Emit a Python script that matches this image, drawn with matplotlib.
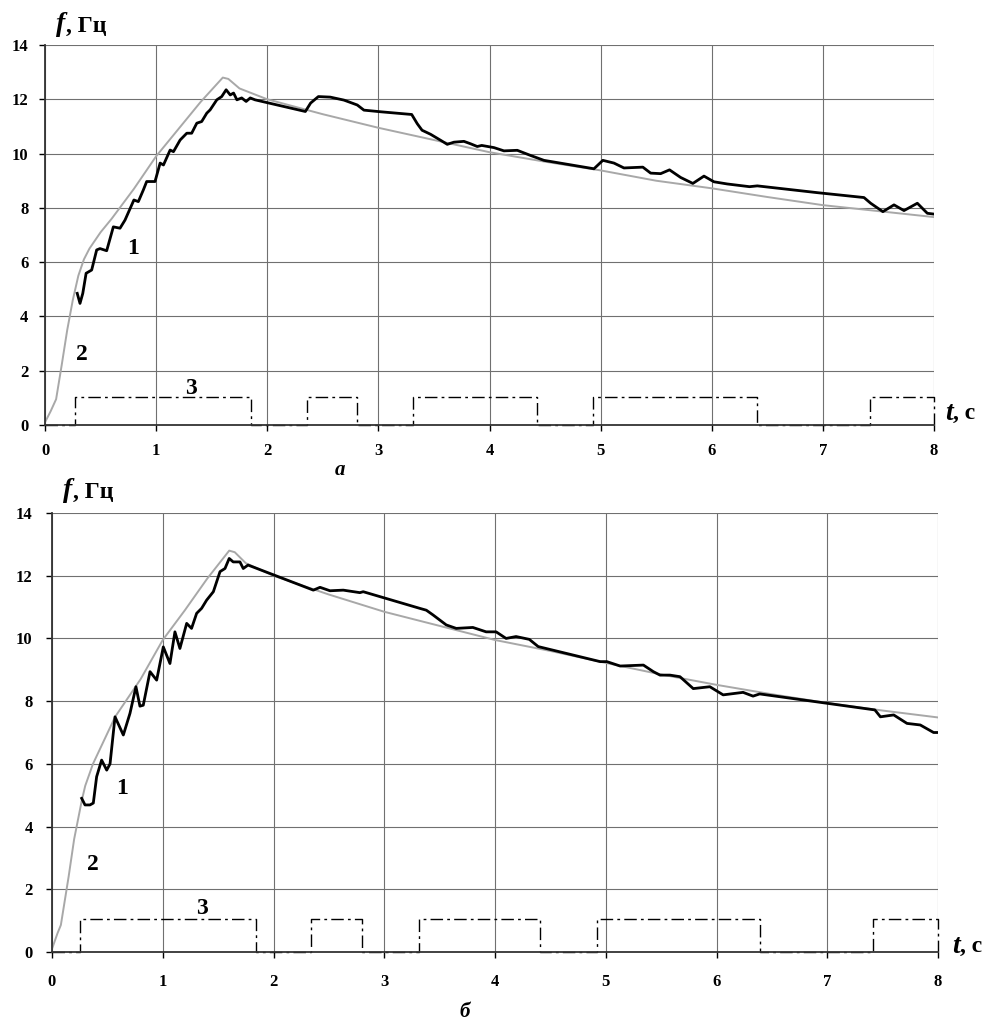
import matplotlib
matplotlib.use("Agg")
import matplotlib.pyplot as plt
import numpy as np

plt.rcParams["font.family"] = ["Liberation Serif", "DejaVu Serif"]

# Model curve (2), panel a
t2_a = [0.0, 0.05, 0.1, 0.15, 0.2, 0.25, 0.3, 0.35, 0.4, 0.5, 0.6, 0.8, 1.0,
        1.2, 1.4, 1.6, 1.65, 1.75, 2.0, 2.5, 3.0, 3.5, 4.0, 4.5, 5.0, 5.5,
        6.0, 6.5, 7.0, 7.5, 8.0]
f2_a = [0.1, 0.5, 0.95, 2.2, 3.5, 4.6, 5.5, 6.1, 6.5, 7.1, 7.6, 8.7, 9.9,
        10.9, 11.9, 12.8, 12.75, 12.4, 12.0, 11.45, 10.95, 10.5, 10.05, 9.7,
        9.38, 9.0, 8.72, 8.4, 8.1, 7.88, 7.66]

# Model curve (2), panel b
t2_b = [0.0, 0.05, 0.08, 0.15, 0.2, 0.27, 0.3, 0.37, 0.45, 0.57, 0.8, 1.0,
        1.2, 1.4, 1.6, 1.65, 1.75, 2.0, 2.5, 3.0, 3.5, 4.0, 4.5, 5.0, 5.5,
        6.0, 6.5, 7.0, 7.5, 8.0]
f2_b = [0.1, 0.6, 0.86, 2.4, 3.6, 4.85, 5.3, 6.0, 6.6, 7.5, 8.7, 9.95,
        10.9, 11.9, 12.8, 12.75, 12.4, 12.0, 11.4, 10.85, 10.4, 9.95, 9.6,
        9.22, 8.85, 8.52, 8.22, 7.94, 7.7, 7.48]

# Measured curve (1), panel a
t1_a = [0.29, 0.315, 0.34, 0.37, 0.42, 0.465, 0.495, 0.555, 0.615, 0.675,
        0.72, 0.80, 0.84, 0.885, 0.915, 0.99, 1.036, 1.066, 1.126, 1.156,
        1.216, 1.276, 1.32, 1.366, 1.41, 1.456, 1.486, 1.546, 1.59, 1.63,
        1.667, 1.697, 1.727, 1.77, 1.81, 1.847, 1.89, 2.343, 2.39, 2.46,
        2.567, 2.69, 2.81, 2.87, 3.02, 3.30, 3.35, 3.393, 3.47, 3.56, 3.62,
        3.68, 3.77, 3.83, 3.89, 3.93, 4.04, 4.13, 4.25, 4.37, 4.49, 4.94,
        5.02, 5.12, 5.21, 5.38, 5.45, 5.54, 5.62, 5.72, 5.83, 5.93, 6.02,
        6.14, 6.34, 6.41, 6.95, 7.37, 7.43, 7.54, 7.64, 7.73, 7.85, 7.94,
        8.0]
f1_a = [4.85, 4.48, 4.85, 5.59, 5.71, 6.45, 6.5, 6.42, 7.3, 7.25, 7.55,
        8.29, 8.23, 8.66, 8.97, 8.97, 9.65, 9.58, 10.13, 10.07, 10.5, 10.75,
        10.75, 11.12, 11.18, 11.49, 11.61, 11.98, 12.1, 12.35, 12.16, 12.23,
        11.98, 12.05, 11.92, 12.05, 11.98, 11.55, 11.86, 12.1, 12.08, 11.97,
        11.79, 11.6, 11.54, 11.44, 11.1, 10.86, 10.71, 10.49, 10.34, 10.42,
        10.45, 10.36, 10.26, 10.3, 10.22, 10.1, 10.12, 9.93, 9.75, 9.44,
        9.75, 9.65, 9.47, 9.5, 9.28, 9.26, 9.4, 9.12, 8.9, 9.17, 8.96, 8.88,
        8.78, 8.81, 8.56, 8.38, 8.17, 7.86, 8.11, 7.9, 8.17, 7.8, 7.77]

# Measured curve (1), panel b
t1_b = [0.268, 0.298, 0.343, 0.373, 0.403, 0.448, 0.494, 0.524, 0.569,
        0.644, 0.704, 0.758, 0.794, 0.824, 0.885, 0.945, 1.005, 1.065, 1.11,
        1.155, 1.216, 1.26, 1.306, 1.351, 1.396, 1.457, 1.517, 1.562, 1.6,
        1.636, 1.697, 1.727, 1.77, 2.36, 2.42, 2.51, 2.63, 2.78, 2.81, 3.32,
        3.38, 3.44, 3.56, 3.65, 3.80, 3.92, 4.01, 4.1, 4.19, 4.31, 4.39,
        4.95, 5.01, 5.13, 5.34, 5.43, 5.49, 5.58, 5.67, 5.79, 5.94, 6.06,
        6.24, 6.33, 6.39, 7.43, 7.48, 7.6, 7.72, 7.84, 7.96, 8.0]
f1_b = [4.9, 4.69, 4.69, 4.75, 5.59, 6.12, 5.8, 6.0, 7.5, 6.92, 7.61, 8.46,
        7.84, 7.87, 8.94, 8.67, 9.73, 9.2, 10.21, 9.68, 10.48, 10.32, 10.8,
        10.96, 11.22, 11.49, 12.13, 12.23, 12.55, 12.44, 12.44, 12.23,
        12.34, 11.54, 11.63, 11.52, 11.54, 11.46, 11.49, 10.96, 10.9, 10.75,
        10.43, 10.32, 10.35, 10.21, 10.21, 10.0, 10.06, 9.97, 9.74, 9.26,
        9.26, 9.12, 9.15, 8.94, 8.83, 8.83, 8.78, 8.4, 8.46, 8.2, 8.28, 8.16,
        8.23, 7.72, 7.5, 7.56, 7.29, 7.24, 7.0, 7.0]

# Control signal (3): pulse on/off times
pulse_level = 1.05
on_a = [0.27, 2.36, 3.31, 4.93, 7.42]
off_a = [1.85, 2.81, 4.43, 6.41, 8.0]
on_b = [0.25, 2.34, 3.31, 4.92, 7.41]
off_b = [1.84, 2.80, 4.41, 6.39, 8.0]

# label positions (t, f) for curve numbers
labels_a = {"1": (0.79, 6.5), "2": (0.33, 2.6), "3": (1.31, 1.35)}
labels_b = {"1": (0.63, 5.2), "2": (0.37, 2.8), "3": (1.35, 1.4)}


def pulse_xy(on, off, level):
    xs, ys = [0.0], [0.0]
    for a, b in zip(on, off):
        xs += [a, a, b, b]
        ys += [0.0, level, level, 0.0]
    return xs, ys


def draw_panel(ax, t1, f1, t2, f2, on, off, labels, ypad, xpad):
    ax.set_xlim(0, 8)
    ax.set_ylim(0, 14)
    ax.set_xticks(range(0, 9))
    ax.set_yticks(range(0, 15, 2))
    ax.grid(True, color="#707070", lw=0.8)
    ax.set_axisbelow(True)
    for s in ("top", "right"):
        ax.spines[s].set_visible(False)
    for s in ("left", "bottom"):
        ax.spines[s].set_linewidth(1.3)
        ax.spines[s].set_color("#333333")
    ax.tick_params(axis="both", direction="out", length=4, width=1,
                   labelsize=12)
    ax.tick_params(axis="x", pad=xpad)
    ax.tick_params(axis="y", pad=ypad)
    for lab in ax.get_xticklabels() + ax.get_yticklabels():
        lab.set_fontweight("bold")

    xs, ys = pulse_xy(on, off, pulse_level)
    ax.plot(xs, ys, color="black", lw=1.0, ls=(0, (9, 3, 2, 3)),
            clip_on=False)
    ax.plot(t2, f2, color="#a8a8a8", lw=1.4)
    ax.plot(t1, f1, color="black", lw=2.0)

    for k, (x, y) in labels.items():
        ax.text(x, y, k, fontsize=17, fontweight="bold", ha="center",
                va="center")


fig = plt.figure(figsize=(9.86, 10.31), dpi=100)
ax_a = fig.add_axes([45 / 986, 1 - 425 / 1031, 889 / 986, 380 / 1031])
ax_b = fig.add_axes([52 / 986, 1 - 952 / 1031, 886 / 986, 439 / 1031])

draw_panel(ax_a, t1_a, f1_a, t2_a, f2_a, on_a, off_a, labels_a, 8, 9)
draw_panel(ax_b, t1_b, f1_b, t2_b, f2_b, on_b, off_b, labels_b, 10, 12)

# axis captions
for ax, fy, tx, ty in ((ax_a, 1.02, 1.012, 0.03), (ax_b, 1.022, 1.016, 0.012)):
    ax.text(0.012, fy, "f", transform=ax.transAxes, fontsize=20,
            fontstyle="italic", fontweight="bold", ha="left", va="bottom")
    ax.text(0.024, fy, ", Гц", transform=ax.transAxes, fontsize=17,
            fontweight="bold", ha="left", va="bottom")
    ax.text(tx, ty, "t", transform=ax.transAxes, fontsize=20,
            fontstyle="italic", fontweight="bold", ha="left", va="center")
    ax.text(tx + 0.009, ty, ", с", transform=ax.transAxes, fontsize=17,
            fontweight="bold", ha="left", va="center")

fig.text(340 / 986, 1 - 470 / 1031, "а", fontsize=15, fontstyle="italic",
         fontweight="bold", ha="center", va="center")
fig.text(465 / 986, 1 - 1012 / 1031, "б", fontsize=15, fontstyle="italic",
         fontweight="bold", ha="center", va="center")

fig.savefig("out.png", dpi=100)
